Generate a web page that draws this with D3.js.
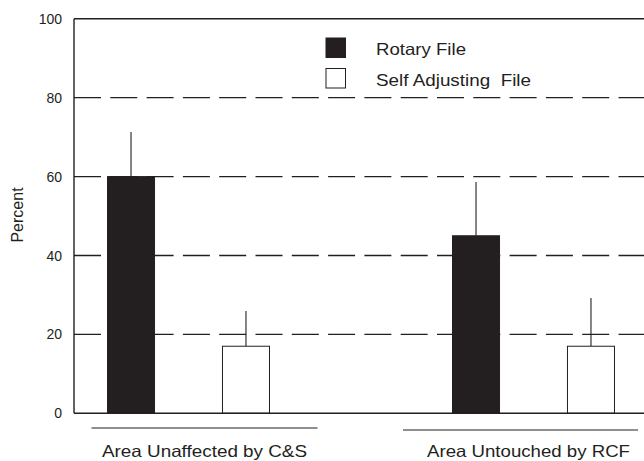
<!DOCTYPE html>
<html>
<head>
<meta charset="utf-8">
<script src="https://cdn.jsdelivr.net/npm/d3@7"></script>
<style>
  body { margin: 0; background: #fff; }
  svg { display: block; }
  text { font-family: "Liberation Sans", Arial, sans-serif; fill: #231f20; white-space: pre; }
</style>
</head>
<body>
<svg id="chart" width="644" height="461"></svg>
<script>
"use strict"

// values
const groups = ["Area Unaffected by C&S", "Area Untouched by RCF"]
const series = ["Rotary File", "Self Adjusting  File"]
const rotaryMean = [60, 45]
const rotaryErr = [11.3, 13.6]
const selfAdjMean = [17, 17]
const selfAdjErr = [8.9, 12.2]
const yTicks = [0, 20, 40, 60, 80, 100]

const ink = "#231f20"
const W = 644, H = 461
const plotLeft = 74, plotTop = 18.8, plotBottom = 413.3

const svg = d3.select("#chart")

const y = d3.scaleLinear().domain([0, 100]).range([plotBottom, plotTop])
// plot is cropped on the right, group bands run past the edge
const x0 = d3.scaleBand().domain(groups).range([16, 706])
const x1 = d3.scaleBand().domain(series).range([0, x0.bandwidth()])
  .paddingInner(0.591).paddingOuter(0.796)

const rows = []
groups.forEach((g, i) => {
  rows.push({ group: g, key: series[0], mean: rotaryMean[i], err: rotaryErr[i], fill: ink })
  rows.push({ group: g, key: series[1], mean: selfAdjMean[i], err: selfAdjErr[i], fill: "#fff" })
})

// dashed grid
svg.append("g")
  .selectAll("line")
  .data(yTicks.filter(t => t > 0 && t < 100))
  .enter().append("line")
    .attr("x1", plotLeft).attr("x2", W)
    .attr("y1", d => y(d)).attr("y2", d => y(d))
    .attr("stroke", ink).attr("stroke-width", 1.3)
    .attr("stroke-dasharray", "27 9.3")

// error lines (upper only)
svg.append("g")
  .selectAll("line")
  .data(rows)
  .enter().append("line")
    .attr("x1", d => x0(d.group) + x1(d.key) + x1.bandwidth() / 2)
    .attr("x2", d => x0(d.group) + x1(d.key) + x1.bandwidth() / 2)
    .attr("y1", d => y(d.mean))
    .attr("y2", d => y(d.mean + d.err))
    .attr("stroke", ink).attr("stroke-width", 1.1)

// bars
svg.append("g")
  .selectAll("rect")
  .data(rows)
  .enter().append("rect")
    .attr("x", d => x0(d.group) + x1(d.key))
    .attr("y", d => y(d.mean))
    .attr("width", x1.bandwidth())
    .attr("height", d => y(0) - y(d.mean))
    .attr("fill", d => d.fill)
    .attr("stroke", ink).attr("stroke-width", 1)

// frame: top, left, bottom
svg.append("line").attr("x1", plotLeft).attr("x2", W).attr("y1", y(100)).attr("y2", y(100))
  .attr("stroke", ink).attr("stroke-width", 1.4)
svg.append("line").attr("x1", plotLeft).attr("x2", W).attr("y1", y(0)).attr("y2", y(0))
  .attr("stroke", ink).attr("stroke-width", 1.4)
svg.append("line").attr("x1", plotLeft).attr("x2", plotLeft).attr("y1", y(100)).attr("y2", y(0))
  .attr("stroke", ink).attr("stroke-width", 1.4)

// y tick labels
svg.append("g")
  .selectAll("text")
  .data(yTicks)
  .enter().append("text")
    .attr("x", 62)
    .attr("y", d => y(d))
    .attr("dy", "0.36em")
    .attr("text-anchor", "end")
    .style("font-size", "14px")
    .text(d => d)

svg.append("text")
  .attr("transform", "translate(23," + 215 + ") rotate(-90)")
  .attr("text-anchor", "middle")
  .style("font-size", "16px")
  .text("Percent")

// group underlines and labels
const groupShift = [16, -13]
const lineWidth = [226, 235]
const labelWidth = [205, 203]
groups.forEach((g, i) => {
  const cx = x0(g) + x0.bandwidth() / 2 + groupShift[i]
  svg.append("line")
    .attr("x1", cx - lineWidth[i] / 2).attr("x2", cx + lineWidth[i] / 2)
    .attr("y1", 428 + i * 2).attr("y2", 428 + i * 2)
    .attr("stroke", ink).attr("stroke-width", 1.2)
  svg.append("text")
    .attr("x", cx - labelWidth[i] / 2 + (i ? 8 : 0))
    .attr("y", 457)
    .attr("textLength", labelWidth[i])
    .attr("lengthAdjust", "spacingAndGlyphs")
    .style("font-size", "16.5px")
    .text(g)
})

// legend
const legendWidth = [90, 155]
const legend = svg.append("g")
  .selectAll("g")
  .data(series)
  .enter().append("g")
    .attr("transform", (d, i) => "translate(326," + (38 + i * 30.5) + ")")
legend.append("rect")
  .attr("width", 19.5).attr("height", 19.5)
  .attr("fill", (d, i) => i ? "#fff" : ink)
  .attr("stroke", ink).attr("stroke-width", 1)
legend.append("text")
  .attr("x", 50).attr("y", 17)
  .attr("textLength", (d, i) => legendWidth[i])
  .attr("lengthAdjust", "spacingAndGlyphs")
  .style("font-size", "16.5px")
  .text(d => d)
</script>
</body>
</html>
